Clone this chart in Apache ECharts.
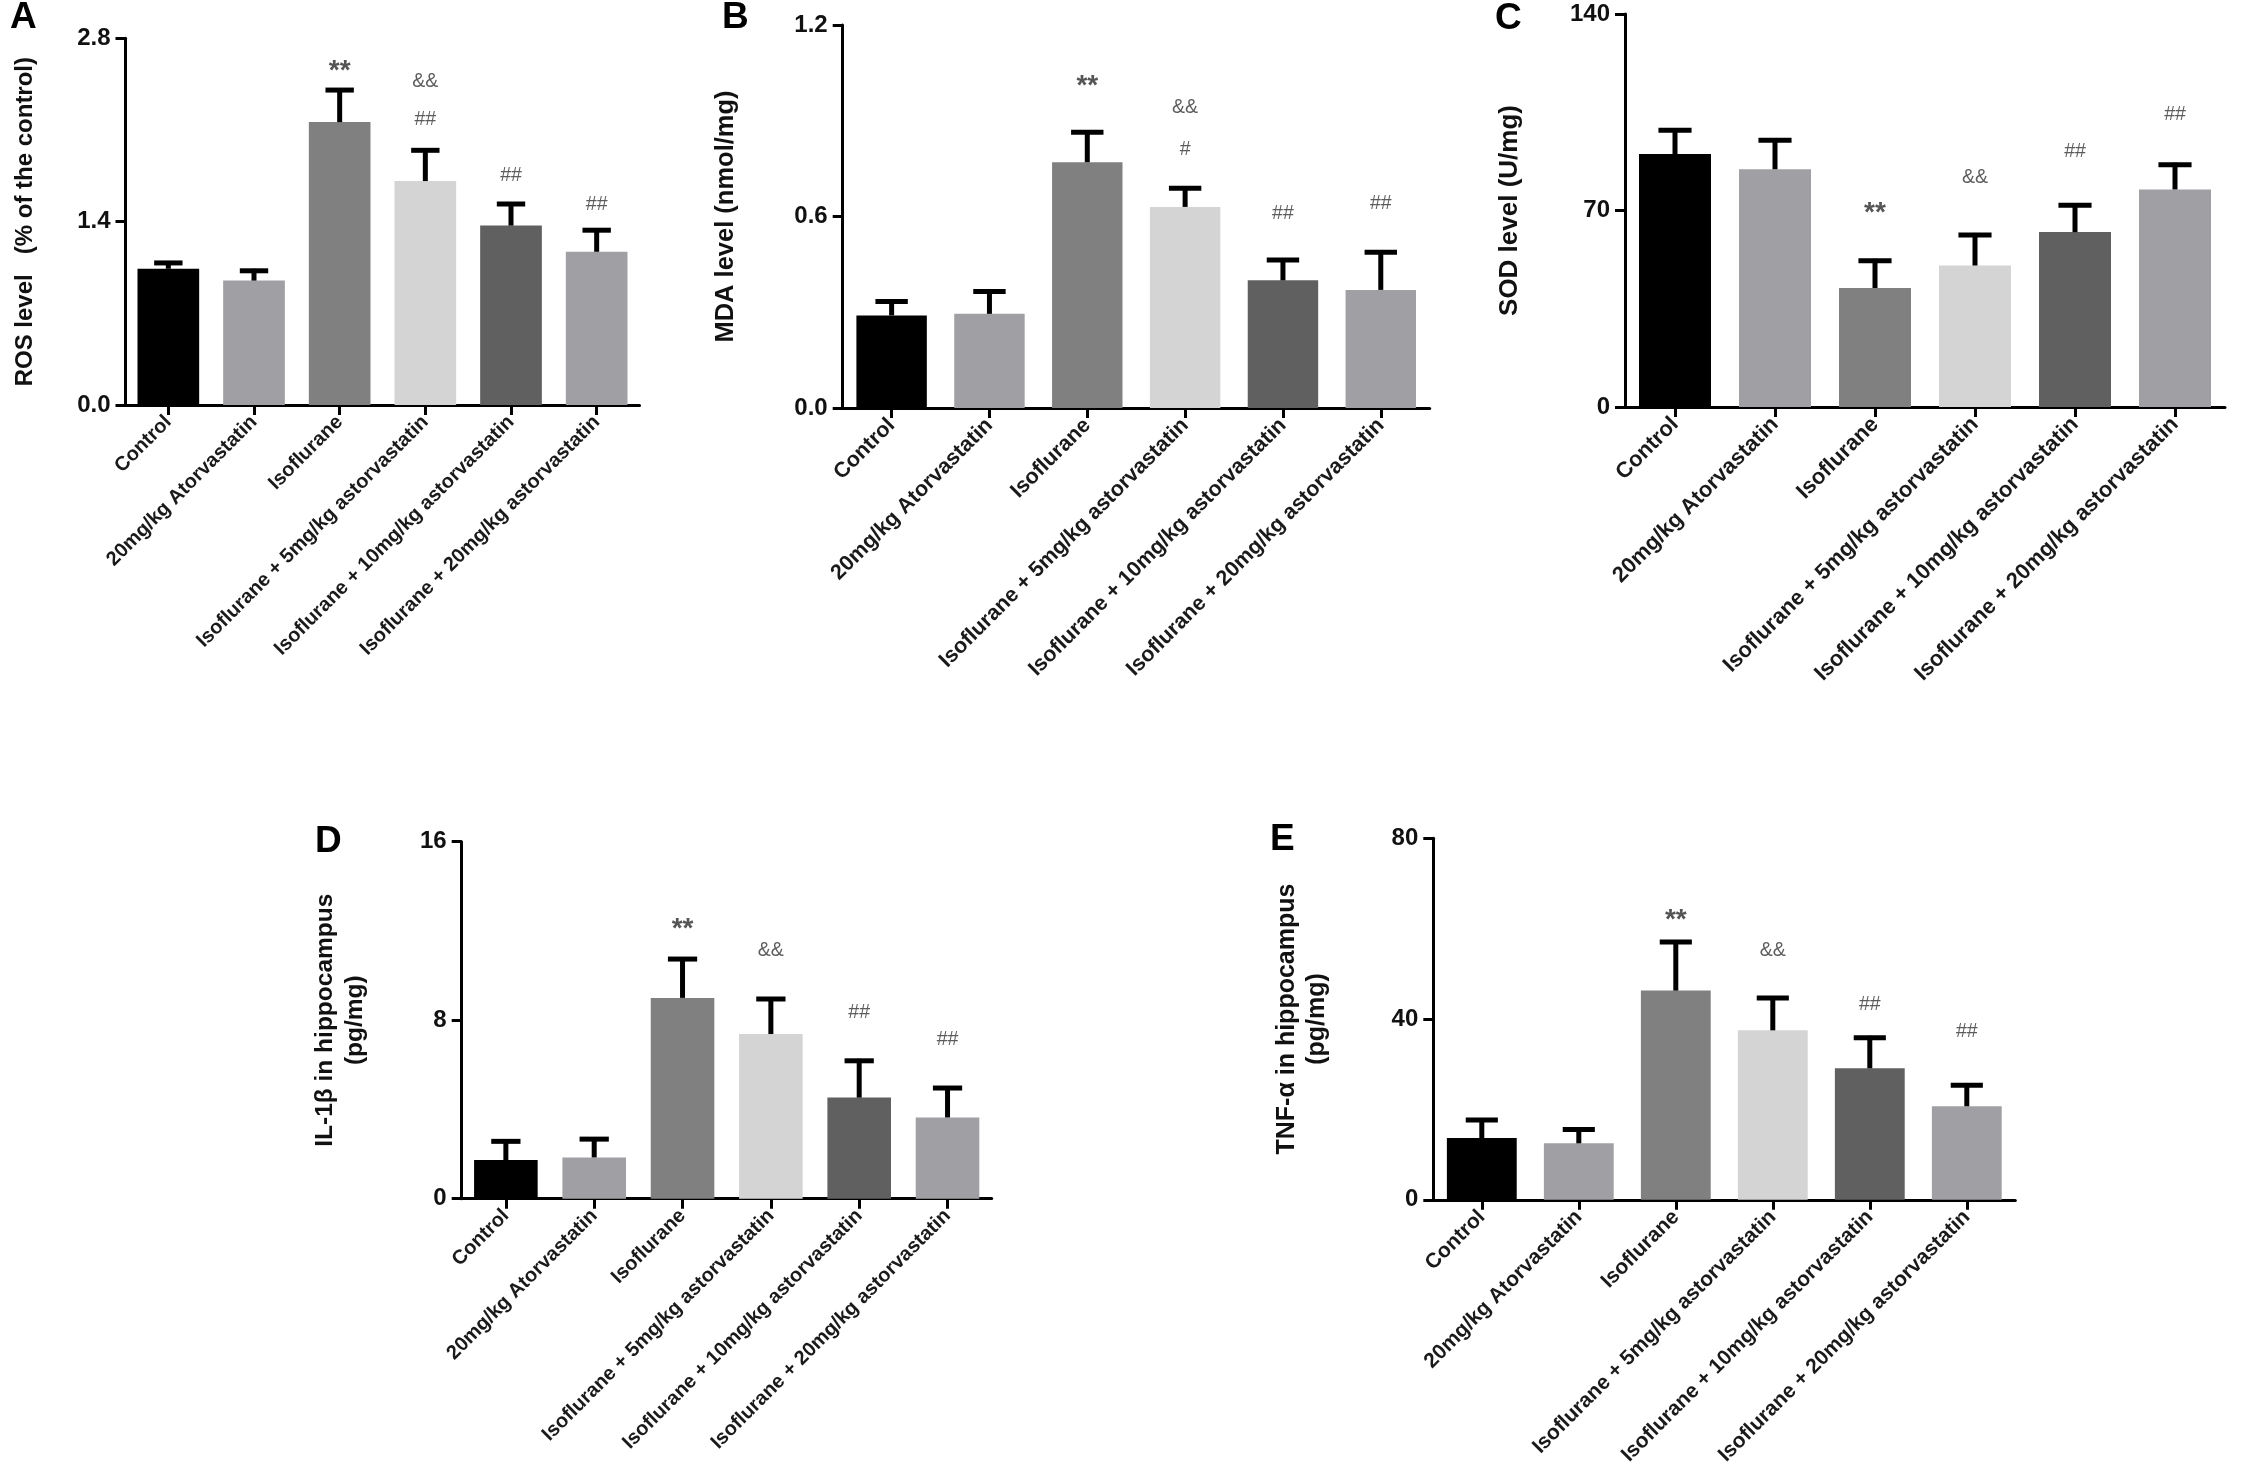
<!DOCTYPE html>
<html>
<head>
<meta charset="utf-8">
<script src="https://cdn.jsdelivr.net/npm/echarts@6/dist/echarts.min.js"></script>
<style>
html,body{margin:0;padding:0;background:#fff;}
#chart{width:2243px;height:1475px;}
</style>
</head>
<body>
<div id="chart"></div>
<script>
// ---------- data ----------
const categories = ['Control', '20mg/kg Atorvastatin', 'Isoflurane',
  'Isoflurane + 5mg/kg astorvastatin', 'Isoflurane + 10mg/kg astorvastatin',
  'Isoflurane + 20mg/kg astorvastatin'];
const barColors = ['#000000', '#a0a0a4', '#808080', '#d4d4d4', '#606060', '#a0a0a4'];

const rosMean = [1.04, 0.95, 2.16, 1.71, 1.37, 1.17];
const rosErr  = [0.06, 0.09, 0.26, 0.25, 0.18, 0.18];
const rosMarkCats = [2, 3, 3, 4, 5];
const rosMarkTexts = ['**', '&&', '##', '##', '##'];
const rosMarkValues = [2.60, 2.47, 2.18, 1.75, 1.53];

const mdaMean = [0.29, 0.295, 0.77, 0.63, 0.40, 0.37];
const mdaErr  = [0.05, 0.076, 0.10, 0.065, 0.07, 0.124];
const mdaMarkCats = [2, 3, 3, 4, 5];
const mdaMarkTexts = ['**', '&&', '#', '##', '##'];
const mdaMarkValues = [1.03, 0.94, 0.81, 0.61, 0.64];

const sodMean = [90.1, 84.7, 42.4, 50.4, 62.3, 77.5];
const sodErr  = [9.2, 11.0, 10.4, 11.6, 10.3, 9.5];
const sodMarkCats = [2, 3, 4, 5];
const sodMarkTexts = ['**', '&&', '##', '##'];
const sodMarkValues = [71.5, 81.6, 91.1, 104.0];

const ilMean = [1.73, 1.85, 9.0, 7.38, 4.53, 3.64];
const ilErr  = [0.93, 0.91, 1.83, 1.66, 1.74, 1.41];
const ilMarkCats = [2, 3, 4, 5];
const ilMarkTexts = ['**', '&&', '##', '##'];
const ilMarkValues = [12.37, 11.12, 8.33, 7.11];

const tnfMean = [13.65, 12.5, 46.3, 37.5, 29.1, 20.7];
const tnfErr  = [4.45, 3.5, 11.2, 7.6, 7.2, 5.1];
const tnfMarkCats = [2, 3, 4, 5];
const tnfMarkTexts = ['**', '&&', '##', '##'];
const tnfMarkValues = [63.3, 55.2, 43.2, 37.3];

const yMaxes = [2.8, 1.2, 140, 16, 80];
const yDecimals = [1, 1, 0, 0, 0];
const yTitles = ['ROS level   (% of the control)', 'MDA level (nmol/mg)', 'SOD level (U/mg)',
  'IL-1\u03b2 in hippocampus\n(pg/mg)', 'TNF-\u03b1 in hippocampus\n(pg/mg)'];
const panelLetters = ['A', 'B', 'C', 'D', 'E'];

// ---------- layout ----------
const FONT = '"Liberation Sans", Arial, Helvetica, sans-serif';
const panels = [
  {grid: {left: 125.5, top: 38.3, width: 514, height: 366.7}, mean: rosMean, err: rosErr,
   mc: rosMarkCats, mt: rosMarkTexts, mv: rosMarkValues, nameGap: 85, nameFont: 24, catFont: 20, letter: [10, 16.5]},
  {grid: {left: 842.7, top: 25, width: 587, height: 383}, mean: mdaMean, err: mdaErr,
   mc: mdaMarkCats, mt: mdaMarkTexts, mv: mdaMarkValues, nameGap: 102, nameFont: 25.5, catFont: 21.5, letter: [722, 16.5]},
  {grid: {left: 1625, top: 14, width: 600, height: 393}, mean: sodMean, err: sodErr,
   mc: sodMarkCats, mt: sodMarkTexts, mv: sodMarkValues, nameGap: 100, nameFont: 26, catFont: 22, letter: [1495, 17.5]},
  {grid: {left: 461.7, top: 841.7, width: 530, height: 357}, mean: ilMean, err: ilErr,
   mc: ilMarkCats, mt: ilMarkTexts, mv: ilMarkValues, nameGap: 91, nameFont: 24.5, catFont: 20, letter: [315, 840.5]},
  {grid: {left: 1433.3, top: 838.3, width: 582, height: 361.5}, mean: tnfMean, err: tnfErr,
   mc: tnfMarkCats, mt: tnfMarkTexts, mv: tnfMarkValues, nameGap: 101, nameFont: 25, catFont: 21, letter: [1270, 839]}
];

const grids = [], xAxes = [], yAxes = [], series = [], graphics = [];
const BAR_FRAC = 0.72;

panels.forEach((p, k) => {
  grids.push(Object.assign({containLabel: false}, p.grid));
  xAxes.push({
    type: 'category', gridIndex: k, data: categories,
    axisLine: {show: true, lineStyle: {color: '#000', width: 3}},
    axisTick: {show: true, alignWithLabel: true, length: 10, lineStyle: {color: '#000', width: 3}},
    axisLabel: {interval: 0, rotate: 45, margin: 14, color: '#1a1a1a', fontWeight: 'bold',
      fontSize: p.catFont, fontFamily: FONT},
    splitLine: {show: false}
  });
  yAxes.push({
    type: 'value', gridIndex: k, min: 0, max: yMaxes[k], interval: yMaxes[k] / 2,
    axisLine: {show: true, lineStyle: {color: '#000', width: 3}},
    axisTick: {show: true, length: 10, lineStyle: {color: '#000', width: 3}},
    axisLabel: {margin: 15, color: '#111', fontWeight: 'bold', fontSize: 24, fontFamily: FONT,
      formatter: v => v.toFixed(yDecimals[k])},
    splitLine: {show: false},
    name: yTitles[k], nameLocation: 'middle', nameGap: p.nameGap,
    nameTextStyle: {color: '#111', fontWeight: 'bold', fontSize: p.nameFont, fontFamily: FONT, lineHeight: 30}
  });
  series.push({
    type: 'bar', xAxisIndex: k, yAxisIndex: k, barWidth: (BAR_FRAC * 100) + '%',
    data: p.mean.map((v, i) => ({value: v, itemStyle: {color: barColors[i]}})),
    z: 2
  });
  series.push({
    type: 'custom', xAxisIndex: k, yAxisIndex: k, z: 3,
    encode: {x: 0, y: 1},
    data: p.mean.map((v, i) => [i, v, p.err[i]]),
    renderItem: (params, api) => {
      const i = api.value(0), m = api.value(1), e = api.value(2);
      const base = api.coord([i, m]);
      const top = api.coord([i, m + e]);
      const bw = api.size([1, 0])[0] * BAR_FRAC;
      const cw = bw * 0.46;
      return {type: 'group', children: [
        {type: 'line', shape: {x1: base[0], y1: base[1], x2: top[0], y2: top[1]},
         style: {stroke: '#000', lineWidth: 5}},
        {type: 'line', shape: {x1: top[0] - cw / 2, y1: top[1] + 2, x2: top[0] + cw / 2, y2: top[1] + 2},
         style: {stroke: '#000', lineWidth: 5}}
      ]};
    }
  });
  series.push({
    type: 'scatter', xAxisIndex: k, yAxisIndex: k, symbolSize: 0, z: 4, silent: true,
    data: p.mc.map((c, j) => {
      const star = p.mt[j] === '**';
      return {
        value: [c, p.mv[j]],
        label: {
          show: true, position: 'inside', formatter: p.mt[j],
          color: star ? '#2a2a2a' : '#333333',
          fontSize: star ? 28 : 19.5, fontWeight: star ? 'bold' : 'normal',
          fontFamily: FONT, offset: [0, star ? 7 : 0]
        }
      };
    })
  });
  graphics.push({
    type: 'text', x: p.letter[0], y: p.letter[1] + 1,
    style: {text: panelLetters[k], fill: '#000', font: 'bold 37px ' + FONT,
      textAlign: 'left', textVerticalAlign: 'middle', verticalAlign: 'middle'}
  });
});

const chart = echarts.init(document.getElementById('chart'), null, {renderer: 'canvas'});
chart.setOption({
  animation: false,
  backgroundColor: '#ffffff',
  grid: grids, xAxis: xAxes, yAxis: yAxes, series: series, graphic: graphics
});
</script>
</body>
</html>
